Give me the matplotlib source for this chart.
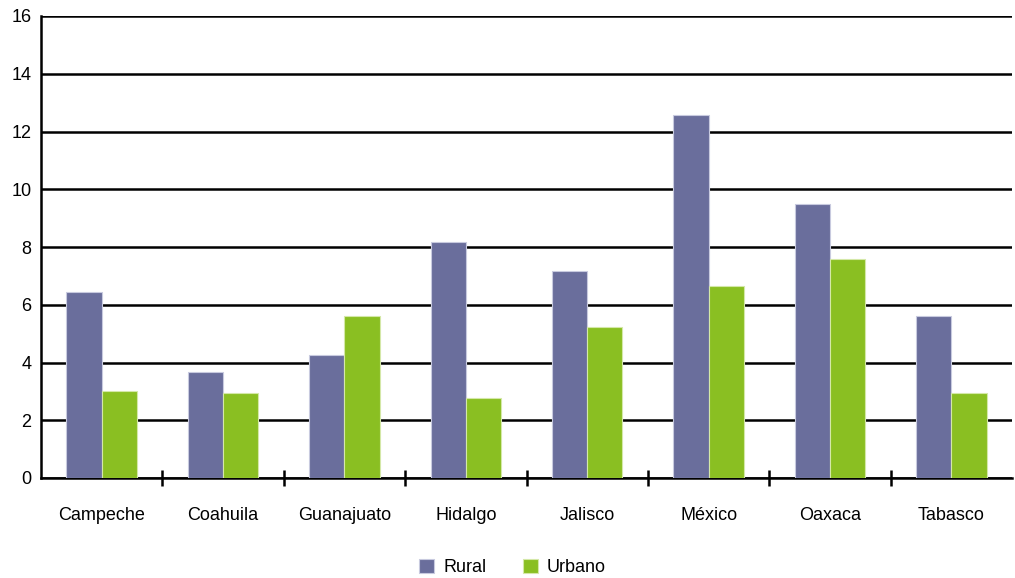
import numpy as np
import matplotlib.pyplot as plt

estados = ["Campeche", "Coahuila", "Guanajuato", "Hidalgo", "Jalisco", "México", "Oaxaca", "Tabasco"]
rural = [6.45, 3.67, 4.26, 8.17, 7.17, 12.57, 9.49, 5.61]
urbano = [3.0, 2.94, 5.61, 2.77, 5.23, 6.65, 7.58, 2.94]

plt.rcParams['font.family'] = ['Liberation Sans', 'DejaVu Sans']

fig = plt.figure(figsize=(10.15, 5.78), dpi=100)
ax = fig.add_axes([41/1015, 1 - 478/578, 971/1015, 462/578])

x = np.arange(len(estados))
w = 0.29
ax.bar(x - w/2, rural, w, color="#6a6e9c", edgecolor="#c8cadf", linewidth=0.8, label="Rural", zorder=3)
ax.bar(x + w/2, urbano, w, color="#8abf22", edgecolor="#d4e8a8", linewidth=0.8, label="Urbano", zorder=3)

ax.set_xlim(-0.5, len(estados) - 0.5)
ax.set_ylim(0, 16)
ax.set_yticks(range(0, 17, 2))
ax.yaxis.grid(True, color="black", linewidth=1.8, zorder=1)
ax.set_axisbelow(True)

# marcas entre categorias
ax.set_xticks(x[:-1] + 0.5, minor=True)
ax.set_xticks(x)
ax.set_xticklabels(estados, fontsize=13)
ax.tick_params(axis="x", which="major", length=0, pad=21)
ax.tick_params(axis="x", which="minor", length=12, width=1.8, direction="inout", color="black")
ax.tick_params(axis="y", length=0, labelsize=13, pad=7)

for s in ["top", "right"]:
    ax.spines[s].set_visible(False)
ax.spines["left"].set_linewidth(1.8)
ax.spines["bottom"].set_linewidth(1.8)

fig.legend(loc="lower center", bbox_to_anchor=(0.505, -0.025), ncol=2, frameon=False,
           fontsize=13, handlelength=0.85, handleheight=0.85, columnspacing=2.0, handletextpad=0.5)

fig.savefig("out.png", dpi=100)
